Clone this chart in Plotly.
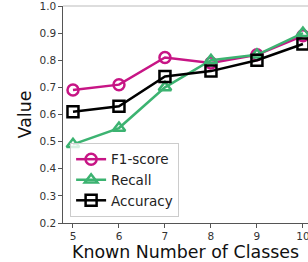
import plotly.graph_objects as go

classes = [5, 6, 7, 8, 9, 10]
f1_score = [0.69, 0.71, 0.81, 0.79, 0.82, 0.89]
recall = [0.49, 0.55, 0.70, 0.80, 0.82, 0.90]
accuracy = [0.61, 0.63, 0.74, 0.76, 0.80, 0.86]
y_ticks = [0.2, 0.3, 0.4, 0.5, 0.6, 0.7, 0.8, 0.9, 1.0]

series = [
    ("F1-score", f1_score, "#C71585", "circle-open"),
    ("Recall", recall, "#3CB371", "triangle-up-open"),
    ("Accuracy", accuracy, "#000000", "square-open"),
]

fig = go.Figure()
for name, vals, color, sym in series:
    fig.add_trace(go.Scatter(
        x=classes, y=vals, name=name, mode="lines+markers",
        line=dict(color=color, width=2.5),
        marker=dict(symbol=sym, size=11, color=color, line=dict(color=color, width=2.5)),
        cliponaxis=False,
    ))

fig.update_layout(
    width=308, height=262,
    margin=dict(l=63, r=0, t=6, b=39, autoexpand=False),
    paper_bgcolor="white", plot_bgcolor="white",
    font=dict(family="DejaVu Sans", color="#222"),
    showlegend=True,
    legend=dict(x=0.029, y=0.028, xanchor="left", yanchor="bottom",
                bgcolor="rgba(255,255,255,0.8)", bordercolor="#cccccc", borderwidth=1,
                font=dict(size=13.5, family="DejaVu Sans", color="#222"),
                tracegroupgap=0, itemwidth=30),
    xaxis=dict(range=[4.783, 10.11], tickvals=classes, ticktext=[str(c) for c in classes],
               automargin=False, ticklabeloverflow="allow",
               showgrid=False, zeroline=False, showline=True, linecolor="#555", linewidth=1.2,
               ticks="outside", ticklen=3.5, tickcolor="#555", tickfont=dict(size=10.5, color="#333"),
               title=dict(text="Known Number of Classes", font=dict(size=17.4, color="#111"), standoff=0)),
    yaxis=dict(range=[0.2, 1.0], tickvals=y_ticks, ticktext=[f"{v:.1f}" for v in y_ticks],
               automargin=False, ticklabeloverflow="allow",
               showgrid=False, zeroline=False, showline=True, linecolor="#555", linewidth=1.2,
               ticks="outside", ticklen=3.5, tickcolor="#555", tickfont=dict(size=10.5, color="#333"),
               title=dict(text="Value", font=dict(size=17.4, color="#111"), standoff=3)),
)
fig.add_shape(type="line", xref="paper", yref="paper", x0=0, x1=1, y0=1, y1=1,
              line=dict(color="#bbbbbb", width=1.2))

fig.write_html("out.html", config={"displayModeBar": False},
               post_script="document.body.style.margin='0';document.body.style.padding='0';document.body.style.overflow='hidden';")
